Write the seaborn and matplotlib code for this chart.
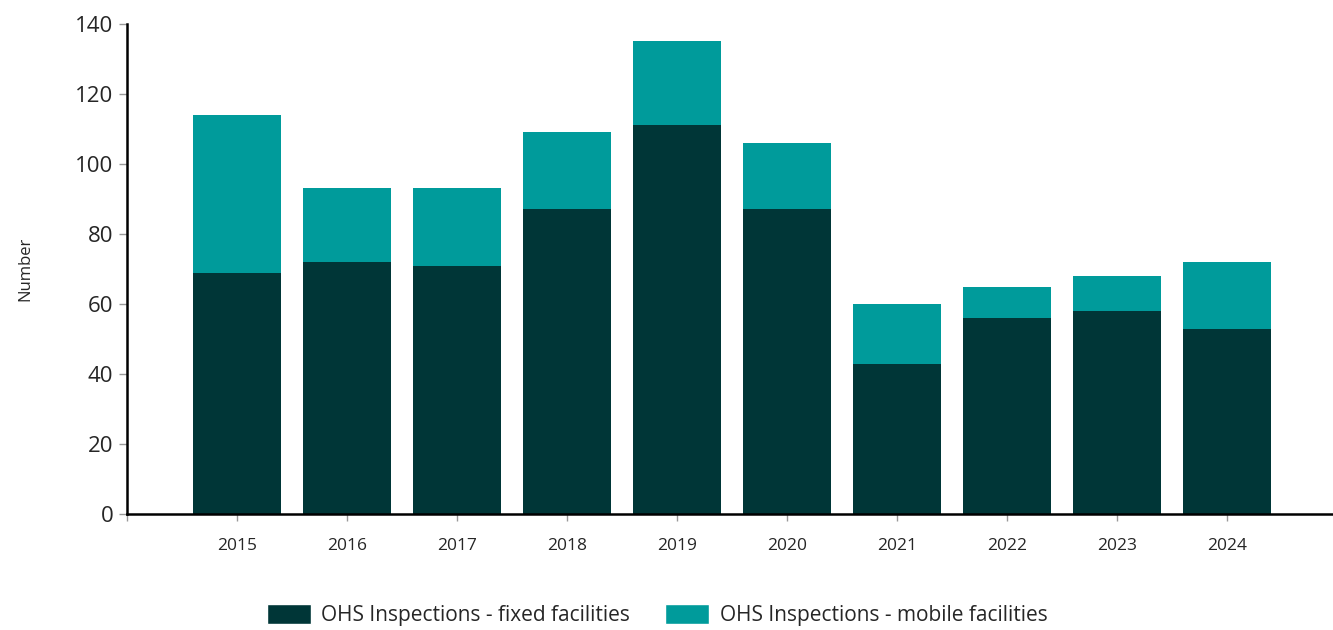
import matplotlib
matplotlib.use("Agg")
import matplotlib.pyplot as plt
from matplotlib.patches import Patch
import pandas as pd
import seaborn as sns

years = ["2015", "2016", "2017", "2018", "2019", "2020", "2021", "2022", "2023", "2024"]
fixed = [69, 72, 71, 87, 111, 87, 43, 56, 58, 53]
mobile = [45, 21, 22, 22, 24, 19, 17, 9, 10, 19]

dark = "#003637"
teal = "#009b9b"

sns.set_style("white")
plt.rcParams["font.family"] = ["Open Sans", "DejaVu Sans"]

df = pd.DataFrame({"year": years, "fixed": fixed, "mobile": mobile})
df["total"] = df["fixed"] + df["mobile"]

fig = plt.figure(figsize=(13.33, 6.3), dpi=100)
ax = fig.add_axes([0.0953, 0.184, 0.9047, 0.778])

# ==========================================================
# Stacked bars: total first, fixed on top of it
# ==========================================================

sns.barplot(data=df, x="year", y="total", color=teal, width=0.8,
            saturation=1, linewidth=0, ax=ax)
sns.barplot(data=df, x="year", y="fixed", color=dark, width=0.8,
            saturation=1, linewidth=0, ax=ax)

ax.set_xlim(-1, 9.96)
ax.set_ylim(0, 140)
ax.set_yticks(range(0, 141, 20))
ax.set_xticks(range(-1, 10))
ax.set_xticklabels([""] + years)

ax.tick_params(axis="y", labelsize=16, length=6, width=1, color="#999999",
               direction="out", left=True, pad=4)
ax.tick_params(axis="x", labelsize=12.5, length=5, width=1, color="#999999",
               direction="out", bottom=True, pad=12)

for side in ["top", "right"]:
    ax.spines[side].set_visible(False)
for side in ["left", "bottom"]:
    ax.spines[side].set_color("black")
    ax.spines[side].set_linewidth(1.8)

ax.set_xlabel("")
ax.set_ylabel("Number", fontsize=12, labelpad=30)

# ==========================================================
# Legend
# ==========================================================

handles = [
    Patch(facecolor=dark, label="OHS Inspections - fixed facilities"),
    Patch(facecolor=teal, label="OHS Inspections - mobile facilities"),
]
fig.legend(handles=handles, loc="center", bbox_to_anchor=(0.493, 0.024),
           ncol=2, frameon=False, fontsize=15, handlelength=2.1,
           handleheight=1.1, columnspacing=1.7, handletextpad=0.5)

fig.savefig("out.png", dpi=100)
plt.close(fig)
